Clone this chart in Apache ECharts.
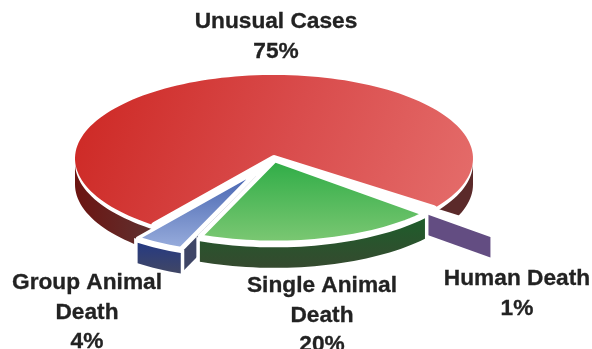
<!DOCTYPE html>
<html><head><meta charset="utf-8">
<style>html,body{margin:0;padding:0;background:#fff}#c{width:592px;height:349px}</style>
<script src="https://cdn.jsdelivr.net/npm/echarts@6/dist/echarts.min.js"></script>
</head><body><div id="c"></div>
<script>
// Data, clockwise around the pie
const categories = ['Unusual Cases', 'Human Death', 'Single Animal Death', 'Group Animal Death'];
const values = [75, 1, 20, 4];
const labelLines = [['Unusual Cases'], ['Human Death'], ['Single Animal', 'Death'], ['Group Animal', 'Death']];

// Layout and style
const CX = 274, CY = 158.5, TILT = 0.42, START = 126.8, GAP = 4.5;
const radius = [199, 198, 197, 198];
const explode = [0, 84, 4, 36];
const depth = [26, 23, 25, 25];
const edgeWidth = [7, 5, 4.5, 3.5];
const drawOrder = [0, 1, 3, 2];
const labelAnchor = [[276, 22], [517, 279], [322, 286], [87, 283]];
const LINE_H = 29.5;
const lin = (x, y, x2, y2, stops) => ({type: 'linear', x, y, x2, y2, global: true,
  colorStops: stops.map((c, i) => ({offset: i / (stops.length - 1), color: c}))});
const topFill = [
  lin(90, 90, 470, 235, ['#ce2a26', '#d94c4c', '#e56e6c']),
  '#ffffff',
  lin(0, 165, 0, 241, ['#33ae49', '#7ac772']),
  lin(0, 182, 0, 245, ['#4f6cb5', '#94a9da'])
];
const wallFill = [
  lin(75, 0, 160, 0, ['#6c1411', '#5e3433']),
  '#634d82',
  lin(0, 218, 0, 267, ['#1e5d2b', '#354a2f']),
  lin(0, 243, 0, 272, ['#263a82', '#3f4666'])
];
const edge = i => ({stroke: '#fff', lineWidth: edgeWidth[i], lineJoin: 'round', lineCap: 'round'});
const HALO = {stroke: '#fff', lineWidth: 7, lineJoin: 'miter', fill: '#fff'};

// Slice angles derived from values
let acc = START;
const total = values.reduce((a, b) => a + b, 0);
const angles = values.map(v => { const s = acc; acc += v / total * 360; return [s, acc]; });

const rad = d => d * Math.PI / 180;
function geom(i) {
  const [a0, a1] = angles[i], mid = (a0 + a1) / 2;
  const ox = CX + explode[i] * Math.cos(rad(mid));
  const oy = CY + explode[i] * Math.sin(rad(mid)) * TILT;
  const pt = (r, a, dz) => [ox + r * Math.cos(rad(a)), oy + r * Math.sin(rad(a)) * TILT + (dz || 0)];
  const arc = (from, to, r, dz) => {
    const out = [], n = Math.max(2, Math.ceil(Math.abs(to - from) / 2));
    for (let k = 0; k <= n; k++) out.push(pt(r, from + (to - from) * k / n, dz));
    return out;
  };
  return {a0, a1, pt, arc, r: radius[i], apex: [ox, oy], d: depth[i]};
}
const poly = (points, style) => ({type: 'polygon', shape: {points}, style, silent: true});
const line = (points, style) => ({type: 'polyline', shape: {points}, style: Object.assign({fill: null}, style), silent: true});
function wallPts(g, from, to) {
  return g.arc(from, to, g.r, GAP).concat(g.arc(to, from, g.r, g.d));
}
function facePts(g, a) {
  const p0 = g.apex, p1 = g.pt(g.r, a, 0);
  return [[p0[0], p0[1] + GAP], [p1[0], p1[1] + GAP], [p1[0], p1[1] + g.d], [p0[0], p0[1] + g.d]];
}

function renderItem(params, api) {
  const i = api.value(0), g = geom(i), kids = [];
  const sector = [g.apex].concat(g.arc(g.a0, g.a1, g.r, 0));
  if (i === 0) {
    kids.push(poly(wallPts(g, g.a0, 180), {fill: wallFill[0]}));
    kids.push(poly(wallPts(g, 360, g.a1), {fill: '#5b2a2a'}));
    kids.push(poly(sector, {fill: topFill[0]}));
    kids.push(line([g.pt(g.r, g.a0, 0), g.apex, g.pt(g.r, g.a1, 0)], edge(0)));
  } else if (i === 1) {
    const f = facePts(g, g.a1);
    f[0][1] -= GAP; f[1][1] -= GAP;
    kids.push(poly(f, {fill: wallFill[1]}));
    kids.push(poly(sector, Object.assign({fill: '#fff'}, edge(1))));
  } else {
    if (i === 3) {
      const f = facePts(g, g.a0);
      kids.push(poly(f, HALO), poly(f, {fill: '#3e4566'}));
    }
    const w = wallPts(g, g.a0, g.a1);
    kids.push(poly(w, HALO), poly(w, {fill: wallFill[i]}));
    kids.push(poly(sector, Object.assign({fill: topFill[i]}, edge(i))));
  }
  return {type: 'group', children: kids};
}

function labelText() {
  const out = [];
  categories.forEach((c, i) => {
    const lines = labelLines[i].concat([values[i] + '%']);
    lines.forEach((t, k) => out.push({
      type: 'text', x: labelAnchor[i][0], y: labelAnchor[i][1] + k * LINE_H, silent: true, z: 10,
      scaleX: 0.5, scaleY: 0.5,
      style: {text: t, fill: '#222', stroke: '#222', lineWidth: 0.6,
              fontFamily: 'Liberation Sans', fontWeight: 'bold', fontSize: 45.4,
              textAlign: 'center', textVerticalAlign: 'middle'}
    }));
  });
  return out;
}

const chart = echarts.init(document.getElementById('c'), null, {renderer: 'canvas'});
chart.setOption({
  animation: false,
  backgroundColor: '#fff',
  graphic: labelText(),
  series: [{
    type: 'custom',
    coordinateSystem: 'none',
    renderItem,
    data: drawOrder.map(i => ({name: categories[i], value: [i, values[i]]}))
  }]
});
</script></body></html>
